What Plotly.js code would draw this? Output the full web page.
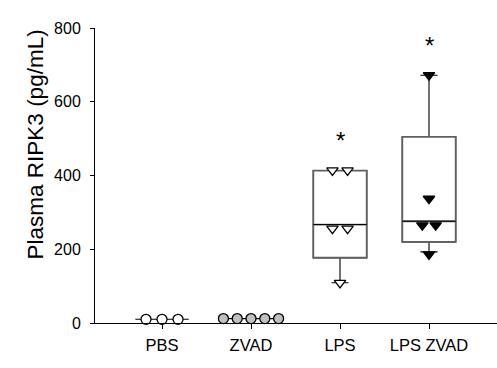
<!DOCTYPE html>
<html>
<head>
<meta charset="utf-8">
<script src="https://cdn.plot.ly/plotly-3.0.1.min.js"></script>
<style>html,body{margin:0;padding:0;background:#fff;}#chart{width:497px;height:368px;}</style>
</head>
<body>
<div id="chart"></div>
<script>
// ---- data ----
var categories = ['PBS', 'ZVAD', 'LPS', 'LPS ZVAD'];
var pbsValues = [10, 10, 10];
var zvadValues = [12, 12, 12, 12, 12];
var lpsValues = [414, 414, 256, 256, 109];
var lpsZvadValues = [672, 337, 265, 265, 186];

var boxQ1 = [10, 12, 177, 220];
var boxMedian = [10, 12, 267, 276];
var boxQ3 = [10, 12, 413, 505];
var boxLower = [10, 12, 109, 193];
var boxUpper = [10, 12, 413, 672];

var sigLabels = ['', '', '*', '*'];
var sigY = [0, 0, 495, 752];

var yTickVals = [0, 200, 400, 600, 800];
var yTitle = 'Plasma RIPK3 (pg/mL)';

// ---- helpers ----
var catIdx = categories.map(function (c, i) { return i; });
// spread points that share (nearly) the same value side by side
function spreadX(center, vals, step) {
  var xs = new Array(vals.length);
  var used = new Array(vals.length).fill(false);
  for (var i = 0; i < vals.length; i++) {
    if (used[i]) continue;
    var grp = [];
    for (var j = i; j < vals.length; j++) {
      if (!used[j] && Math.abs(vals[j] - vals[i]) < 15) { grp.push(j); used[j] = true; }
    }
    for (var k = 0; k < grp.length; k++) {
      xs[grp[k]] = center + (k - (grp.length - 1) / 2) * step;
    }
  }
  return xs;
}

var FONT = 'Liberation Sans, Arial, Helvetica, sans-serif';
var traces = [];

// boxes: black layer (whiskers), gray outline layer, black median layer
for (var i = 0; i < categories.length; i++) {
  traces.push({
    type: 'box', x: [catIdx[i]], q1: [boxQ1[i]], median: [boxMedian[i]], q3: [boxQ3[i]],
    lowerfence: [boxLower[i]], upperfence: [boxUpper[i]],
    width: 0.6, whiskerwidth: 0.32, fillcolor: 'rgba(0,0,0,0)',
    line: { color: '#000', width: 1.1 }, boxpoints: false, hoverinfo: 'skip', showlegend: false
  });
  if (boxQ3[i] > boxQ1[i]) {
    traces.push({
      type: 'box', x: [catIdx[i]], q1: [boxQ1[i]], median: [boxMedian[i]], q3: [boxQ3[i]],
      lowerfence: [boxQ1[i]], upperfence: [boxQ3[i]],
      width: 0.6, whiskerwidth: 0, fillcolor: '#ffffff',
      line: { color: '#606060', width: 1.8 }, boxpoints: false, hoverinfo: 'skip', showlegend: false
    });
    traces.push({
      type: 'box', x: [catIdx[i]], q1: [boxMedian[i]], median: [boxMedian[i]], q3: [boxMedian[i]],
      lowerfence: [boxMedian[i]], upperfence: [boxMedian[i]],
      width: 0.6, whiskerwidth: 0, fillcolor: 'rgba(0,0,0,0)',
      line: { color: '#000', width: 1.1 }, boxpoints: false, hoverinfo: 'skip', showlegend: false
    });
  }
}

function pts(idx, vals, step, symbol, fill, lineColor, size) {
  return {
    type: 'scatter', mode: 'markers', x: spreadX(catIdx[idx], vals, step), y: vals,
    marker: { symbol: symbol, size: size, color: fill, line: { color: lineColor, width: 1.3 } },
    cliponaxis: false, hoverinfo: 'y', showlegend: false
  };
}
traces.push(pts(0, pbsValues, 0.18, 'circle', '#ffffff', '#000', 10));
traces.push(pts(1, zvadValues, 0.155, 'circle', '#c0c0c0', '#000', 10));
traces.push(pts(2, lpsValues, 0.17, 'triangle-down', '#ffffff', '#000', 10));
traces.push(pts(3, lpsZvadValues, 0.15, 'triangle-down', '#000000', '#000', 10));

var annotations = [];
for (var a = 0; a < categories.length; a++) {
  if (sigLabels[a]) {
    annotations.push({ x: catIdx[a], y: sigY[a], xref: 'x', yref: 'y', text: sigLabels[a],
      showarrow: false, font: { family: FONT, size: 24, color: '#000' } });
  }
}
// y-axis title (placed as in the original, shifted toward the top)
annotations.push({ xref: 'paper', yref: 'paper', x: -0.147, y: 0.605, text: yTitle,
  textangle: -90, showarrow: false, xanchor: 'center', yanchor: 'middle',
  font: { family: FONT, size: 22.5, color: '#000' } });

var layout = {
  width: 497, height: 368,
  margin: { l: 95, r: 0, t: 28, b: 45 },
  paper_bgcolor: '#fff', plot_bgcolor: '#fff',
  font: { family: FONT, color: '#000' },
  showlegend: false,
  xaxis: {
    range: [-0.753, 3.764], tickvals: catIdx, ticktext: categories,
    showgrid: false, zeroline: false, showline: true, linecolor: '#000', linewidth: 1,
    ticks: 'outside', ticklen: 5, tickwidth: 1, tickcolor: '#000', ticklabelstandoff: 2,
    tickfont: { family: FONT, size: 16.5, color: '#000' }
  },
  yaxis: {
    range: [0, 800], tickvals: yTickVals,
    showgrid: false, zeroline: false, showline: true, linecolor: '#000', linewidth: 1,
    ticks: 'outside', ticklen: 4, tickwidth: 1, tickcolor: '#000', ticklabelstandoff: 6,
    tickfont: { family: FONT, size: 16, color: '#000' }
  },
  annotations: annotations
};

Plotly.newPlot('chart', traces, layout, { staticPlot: true, displayModeBar: false });
</script>
</body>
</html>
